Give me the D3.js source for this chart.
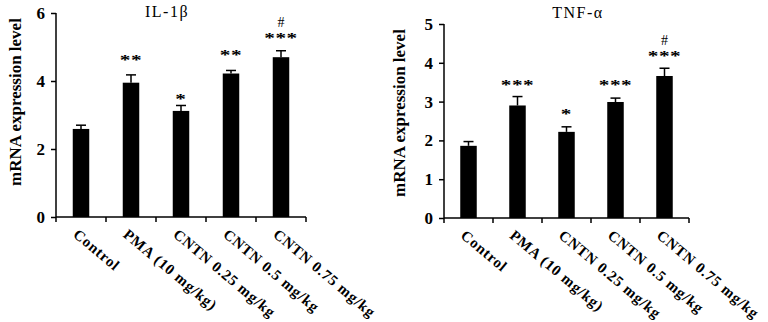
<body style="margin:0;background:#fff"></body>

<script src='https://d3js.org/d3.v7.min.js'></script>
<script>
    const categories = ["Control", "PMA (10 mg/kg)", "CNTN 0.25 mg/kg", "CNTN 0.5 mg/kg", "CNTN 0.75 mg/kg"];

    // IL-1β panel
    const il1bValues = [2.59, 3.95, 3.12, 4.22, 4.70];
    const il1bErrors = [0.11, 0.23, 0.16, 0.09, 0.19];
    const il1bStars = ["", "**", "*", "**", "***"];
    const il1bStarLevel = [0, 4.68, 3.53, 4.82, 5.32];
    const il1bHash = ["", "", "", "", "#"];
    const il1bHashLevel = [0, 0, 0, 0, 5.74];
    const il1bTicks = [0, 2, 4, 6];

    // TNF-α panel
    const tnfValues = [1.86, 2.90, 2.22, 2.99, 3.66];
    const tnfErrors = [0.11, 0.23, 0.13, 0.10, 0.20];
    const tnfStars = ["", "***", "*", "***", "***"];
    const tnfStarLevel = [0, 3.48, 2.73, 3.48, 4.23];
    const tnfHash = ["", "", "", "", "#"];
    const tnfHashLevel = [0, 0, 0, 0, 4.59];
    const tnfTicks = [0, 1, 2, 3, 4, 5];

    const width = 768, height = 322;
    const font = "'Liberation Serif', 'Times New Roman', serif";

    var svg = d3.select("body")
        .append("svg")
        .attr("width", width)
        .attr("height", height)
        .style("font-family", font);

    function drawPanel(opt) {
        var x_scale = d3.scaleBand()
            .domain(categories)
            .range([opt.x0, opt.x1]);
        var y_scale = d3.scaleLinear()
            .domain([0, d3.max(opt.ticks)])
            .range([opt.yBottom, opt.yTop]);

        var g = svg.append("g");
        var barW = 16.5;

        // bars
        g.selectAll(".bar")
            .data(opt.values)
            .enter()
            .append("rect")
            .attr("x", (d, i) => x_scale(categories[i]) + x_scale.bandwidth() / 2 - barW / 2)
            .attr("y", d => y_scale(d))
            .attr("width", barW)
            .attr("height", d => y_scale(0) - y_scale(d))
            .attr("fill", "#000");

        // upper error whiskers
        opt.values.forEach(function (d, i) {
            var cx = x_scale(categories[i]) + x_scale.bandwidth() / 2;
            var top = y_scale(d + opt.errors[i]);
            g.append("line")
                .attr("x1", cx).attr("x2", cx)
                .attr("y1", y_scale(d)).attr("y2", top)
                .attr("stroke", "#000").attr("stroke-width", 1.5);
            g.append("line")
                .attr("x1", cx - 5).attr("x2", cx + 5)
                .attr("y1", top).attr("y2", top)
                .attr("stroke", "#000").attr("stroke-width", 1.5);
        });

        // significance marks (asterisks look wide and flat in the original)
        g.selectAll(".star")
            .data(opt.stars)
            .enter()
            .append("text")
            .attr("transform", (d, i) => "translate(" + (x_scale(categories[i]) + x_scale.bandwidth() / 2) + "," + y_scale(opt.starLevel[i]) + ") scale(1.25,0.85)")
            .attr("dy", "0.47em")
            .attr("text-anchor", "middle")
            .style("font-size", "17px")
            .style("font-weight", "bold")
            .style("letter-spacing", "0.5px")
            .text(d => d);
        g.selectAll(".hash")
            .data(opt.hash)
            .enter()
            .append("text")
            .attr("x", (d, i) => x_scale(categories[i]) + x_scale.bandwidth() / 2)
            .attr("y", (d, i) => y_scale(opt.hashLevel[i]))
            .attr("dy", "0.35em")
            .attr("text-anchor", "middle")
            .style("font-size", "14px")
            .text(d => d);

        // y axis
        var y_axis = d3.axisLeft(y_scale)
            .tickValues(opt.ticks)
            .tickFormat(d3.format("d"))
            .tickSize(5)
            .tickPadding(6);
        var ya = g.append("g")
            .attr("transform", "translate(" + opt.x0 + ",0)")
            .call(y_axis);
        ya.select(".domain").attr("d", "M0," + opt.yBottom + "V" + opt.yTop);
        ya.selectAll("line, path").attr("stroke", "#000").attr("stroke-width", 1.5);
        ya.selectAll("text")
            .style("font-family", font)
            .style("font-size", "17px")
            .style("font-weight", "bold");

        // x axis: ticks at band edges
        g.append("line")
            .attr("x1", opt.x0).attr("x2", opt.x1)
            .attr("y1", opt.yBottom).attr("y2", opt.yBottom)
            .attr("stroke", "#000").attr("stroke-width", 1.5);
        var edges = categories.map(c => x_scale(c)).concat([opt.x1]);
        g.selectAll(".xt")
            .data(edges)
            .enter()
            .append("line")
            .attr("x1", d => d).attr("x2", d => d)
            .attr("y1", opt.yBottom).attr("y2", opt.yBottom + 5)
            .attr("stroke", "#000").attr("stroke-width", 1.5);

        g.selectAll(".xl")
            .data(categories)
            .enter()
            .append("text")
            .attr("transform", d => "translate(" + (x_scale(d) + x_scale.bandwidth() / 2 - 3) + "," + (opt.yBottom + 12) + ") rotate(40)")
            .attr("dy", "0.6em")
            .style("font-size", "15px")
            .style("font-weight", "bold")
            .style("letter-spacing", "0.8px")
            .text(d => d);

        // y label
        g.append("text")
            .attr("transform", "translate(" + opt.labelX + "," + opt.labelY + ") rotate(-90)")
            .attr("text-anchor", "middle")
            .attr("dy", "0.35em")
            .style("font-size", "17px")
            .style("font-weight", "bold")
            .text("mRNA expression level");

        // title
        g.append("text")
            .attr("x", opt.titleX)
            .attr("y", opt.titleY)
            .attr("text-anchor", "middle")
            .style("font-size", "16px")
            .style("letter-spacing", "1.5px")
            .text(opt.title);
    }

    drawPanel({
        title: "IL-1β", values: il1bValues, errors: il1bErrors,
        stars: il1bStars, starLevel: il1bStarLevel, hash: il1bHash, hashLevel: il1bHashLevel,
        ticks: il1bTicks, x0: 56, x1: 306, yBottom: 217, yTop: 13,
        labelX: 15, labelY: 102, titleX: 167, titleY: 17
    });
    drawPanel({
        title: "TNF-α", values: tnfValues, errors: tnfErrors,
        stars: tnfStars, starLevel: tnfStarLevel, hash: tnfHash, hashLevel: tnfHashLevel,
        ticks: tnfTicks, x0: 444, x1: 689, yBottom: 218, yTop: 24,
        labelX: 399, labelY: 113, titleX: 578, titleY: 18
    });
</script>
